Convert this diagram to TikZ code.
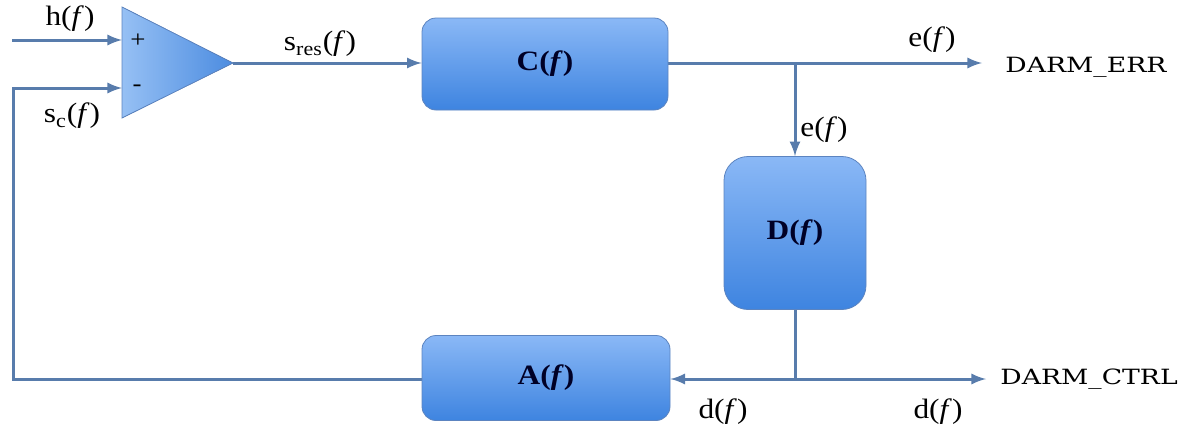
\documentclass[tikz,border=0pt]{standalone}
\usepackage{fontspec}
\setmainfont{Liberation Serif}[FakeStretch=1.12]
\newfontfamily\darmfont{DejaVu Serif}[FakeStretch=1.27]
\usetikzlibrary{arrows}
\definecolor{wire}{RGB}{88,124,172}
\definecolor{boxtop}{RGB}{138,184,246}
\definecolor{boxbottom}{RGB}{62,132,224}
\definecolor{boxline}{RGB}{92,132,192}
\definecolor{ampleft}{RGB}{150,192,244}
\definecolor{ampright}{RGB}{76,140,224}
\tikzstyle{Block}=[shape=rectangle, rounded corners=7pt, top color=boxtop, bottom color=boxbottom, draw=boxline, line width=0.4pt, text=black!85!blue, font=\fontsize{14}{16}\selectfont\bfseries]
\tikzstyle{Amp}=[left color=ampleft, right color=ampright, draw=boxline, line width=0.4pt]
\tikzstyle{Label}=[inner sep=0pt, font=\fontsize{14}{16}\selectfont]
\tikzstyle{Sign}=[inner sep=0pt, font=\fontsize{12}{14}\selectfont]
\tikzstyle{Output}=[inner sep=0pt, anchor=west, font=\fontsize{10.5}{12}\darmfont]
\tikzstyle{arrow}=[line width=1.5pt, draw=wire]
\pgfdeclarelayer{nodelayer}
\pgfdeclarelayer{edgelayer}
\pgfsetlayers{edgelayer, nodelayer}
\begin{document}
\begin{tikzpicture}[x=0.5pt, y=-0.5pt]
	\useasboundingbox (0,0) rectangle (1195,434);
	\begin{pgfonlayer}{nodelayer}
		% summing amplifier
		\filldraw [style=Amp] (122,7) -- (233,63) -- (122,118) -- cycle;
		\node [style=Sign] (plus) at (138,41) {+};
		\node [style=Sign] (minus) at (137,88) {-};
		\coordinate (pin) at (122,40);
		\coordinate (min) at (122,88);
		\coordinate (ampout) at (233,63);

		% blocks
		\node [style=Block, minimum width=123pt, minimum height=46pt] (sensing) at (545,64) {C(\textit{f})};
		\node [style=Block, rounded corners=12pt, minimum width=71pt, minimum height=76.5pt] (digital) at (795,233) {D(\textit{f})};
		\node [style=Block, minimum width=124pt, minimum height=42.5pt] (actuation) at (546,378) {A(\textit{f})};

		% outputs
		\node [style=Output] (darmerr) at (1005,67) {DARM\_ERR};
		\node [style=Output] (darmctrl) at (1000,379) {DARM\_CTRL};
		\coordinate (hin) at (12,40);
		\coordinate (errsplit) at (795,63);
		\coordinate (errout) at (982,63);
		\coordinate (ctrljoin) at (795,379);
		\coordinate (ctrlout) at (986,379);
		\coordinate (fbcorner) at (13,88);
	\end{pgfonlayer}
	\begin{pgfonlayer}{edgelayer}
		\draw [-latex, style=arrow] (hin) to (pin);
		\draw [-latex, style=arrow] (ampout) to (sensing.west |- ampout);
		\draw [-latex, style=arrow] (sensing.east |- errsplit) to (errout);
		\draw [-latex, style=arrow] (errsplit) to (digital.north);
		\draw [style=arrow] (digital.south) to (ctrljoin);
		\draw [-latex, style=arrow] (ctrljoin) to (actuation.east |- ctrljoin);
		\draw [-latex, style=arrow] (ctrljoin) to (ctrlout);
		\draw [-latex, style=arrow] (actuation.west |- ctrljoin) -| (fbcorner) -- (min);

		% signal labels
		\node [style=Label] (hlabel) at (70,19) {h(\textit{f})};
		\node [style=Label] (sclabel) at (72,116) {s\textsubscript{c}(\textit{f})};
		\node [style=Label] (sreslabel) at (320,44) {s\textsubscript{res}(\textit{f})};
		\node [style=Label] (elabel) at (932,40) {e(\textit{f})};
		\node [style=Label] (edlabel) at (824,130) {e(\textit{f})};
		\node [style=Label] (dalabel) at (723,412) {d(\textit{f})};
		\node [style=Label] (dolabel) at (938,412) {d(\textit{f})};
	\end{pgfonlayer}
\end{tikzpicture}
\end{document}
